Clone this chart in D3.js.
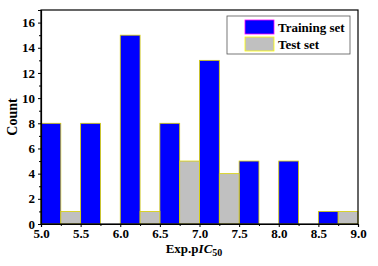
<!DOCTYPE html>
<html>
<head>
<meta charset="utf-8">
<script src="https://cdn.jsdelivr.net/npm/d3@7"></script>
<style>
  body { margin: 0; background: #fff; }
  text { font-family: "Liberation Serif", "Times New Roman", serif; font-weight: bold; }
</style>
</head>
<body>
<svg id="chart"></svg>
<script>
// bins of width 0.25, start value of each bin
const trainingStart = [5.0, 5.5, 6.0, 6.5, 7.0, 7.5, 8.0, 8.5];
const trainingCount = [8, 8, 15, 8, 13, 5, 5, 1];
const testStart = [5.25, 6.25, 6.75, 7.25, 8.75];
const testCount = [1, 1, 5, 4, 1];
const binWidth = 0.25;
const xTicks = [5.0, 5.5, 6.0, 6.5, 7.0, 7.5, 8.0, 8.5, 9.0];
const yTicks = [0, 2, 4, 6, 8, 10, 12, 14, 16];

const width = 378;
const height = 266;
const margin = {left: 41, right: 20, top: 10, bottom: 42};

const svg = d3.select("#chart")
    .attr("width", width)
    .attr("height", height);

const x = d3.scaleLinear().domain([5, 9]).range([margin.left, width - margin.right]);
const y = d3.scaleLinear().domain([0, 17]).range([height - margin.bottom, margin.top]);

// bars
const drawBars = (starts, counts, fill, cls) => {
    svg.append("g").selectAll("rect." + cls)
        .data(starts.map((s, i) => ({s: s, c: counts[i]})))
        .enter()
        .append("rect")
        .attr("class", cls)
        .attr("x", d => x(d.s))
        .attr("y", d => y(d.c))
        .attr("width", d => x(d.s + binWidth) - x(d.s))
        .attr("height", d => y(0) - y(d.c))
        .attr("fill", fill)
        .attr("stroke", "#d8d000")
        .attr("stroke-width", 0.8);
};
drawBars(trainingStart, trainingCount, "#0000ff", "train");
drawBars(testStart, testCount, "#c0c0c0", "test");

// frame
svg.append("rect")
    .attr("x", margin.left)
    .attr("y", margin.top)
    .attr("width", width - margin.left - margin.right)
    .attr("height", height - margin.top - margin.bottom)
    .attr("fill", "none")
    .attr("stroke", "#000")
    .attr("stroke-width", 1.2);

// axes
svg.append("g")
    .attr("transform", "translate(0," + y(0) + ")")
    .call(d3.axisBottom(x).tickValues(xTicks).tickFormat(d3.format(".1f")).tickSize(3).tickPadding(2));
svg.append("g")
    .attr("transform", "translate(0," + y(0) + ")")
    .call(d3.axisBottom(x).tickValues(d3.range(5.25, 9, 0.5)).tickFormat("").tickSize(2))
    .select(".domain").remove();

svg.append("g")
    .attr("transform", "translate(" + margin.left + ",0)")
    .call(d3.axisLeft(y).tickValues(yTicks).tickSize(3).tickPadding(3));
svg.append("g")
    .attr("transform", "translate(" + margin.left + ",0)")
    .call(d3.axisLeft(y).tickValues(d3.range(1, 17, 2)).tickFormat("").tickSize(2))
    .select(".domain").remove();

svg.selectAll(".tick text")
    .attr("font-size", 13)
    .attr("font-family", "Liberation Serif")
    .attr("font-weight", "bold")
    .attr("fill", "#000");
svg.selectAll(".domain").attr("stroke-width", 1.2);

// axis titles
svg.append("text")
    .attr("transform", "translate(17," + ((margin.top + y(0)) / 2) + ") rotate(-90)")
    .attr("text-anchor", "middle")
    .attr("font-size", 14)
    .text("Count");

const xt = svg.append("text")
    .attr("x", 194)
    .attr("y", 253)
    .attr("text-anchor", "middle")
    .attr("font-size", 13);
xt.append("tspan").text("Exp.p");
xt.append("tspan").attr("font-style", "italic").text("IC");
xt.append("tspan").attr("font-size", 10).attr("dy", 3).text("50");

// legend
const lg = svg.append("g");
lg.append("rect")
    .attr("x", 227).attr("y", 16)
    .attr("width", 123).attr("height", 38)
    .attr("fill", "#fff")
    .attr("stroke", "#555")
    .attr("stroke-width", 0.8);
const items = [
    {label: "Training set", fill: "#0000ff", stroke: "#ff00ff"},
    {label: "Test set", fill: "#c0c0c0", stroke: "#ffff00"}
];
items.forEach((it, i) => {
    lg.append("rect")
        .attr("x", 245).attr("y", 20 + i * 17)
        .attr("width", 29).attr("height", 14)
        .attr("fill", it.fill)
        .attr("stroke", it.stroke)
        .attr("stroke-width", 0.8);
    lg.append("text")
        .attr("x", 278).attr("y", 32 + i * 17)
        .attr("font-size", 13)
        .text(it.label);
});
</script>
</body>
</html>
